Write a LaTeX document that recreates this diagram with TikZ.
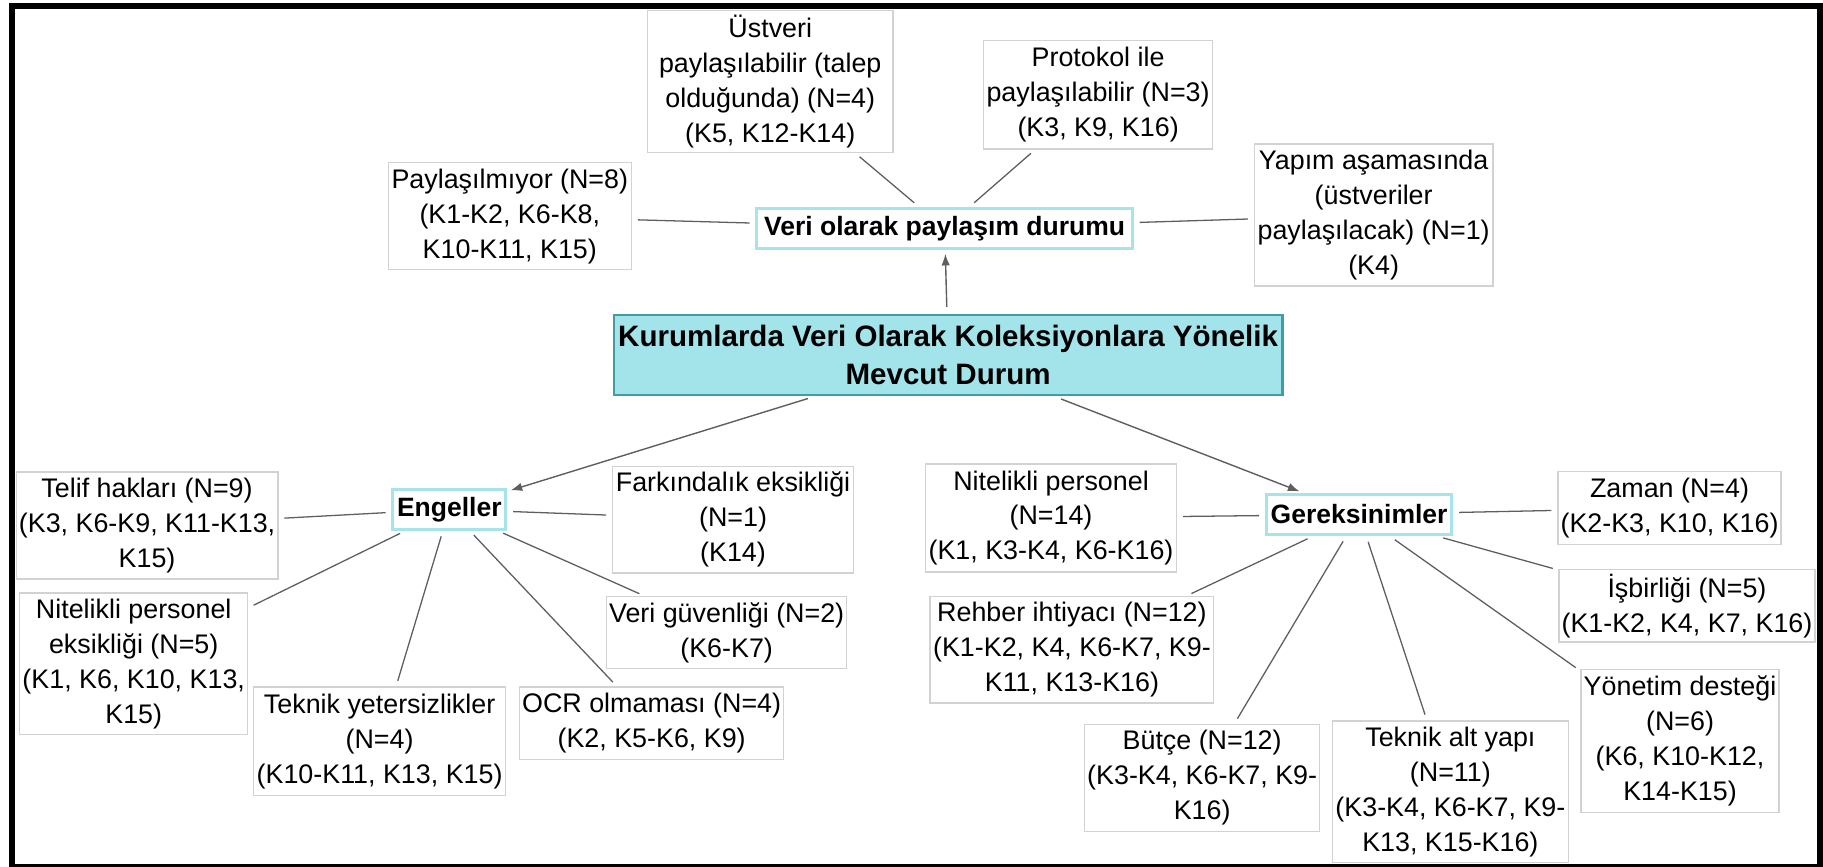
\documentclass[tikz,border=0pt]{standalone}
\usepackage{fontspec}
\setmainfont{Liberation Sans}
\usetikzlibrary{arrows.meta}
\definecolor{leafgray}{HTML}{D2D2D2}
\definecolor{catcyan}{HTML}{A6E3EA}
\definecolor{cfill}{HTML}{A3E4EA}
\definecolor{cdraw}{HTML}{3F9EA4}
\definecolor{linegray}{HTML}{5E5E5E}
\begin{document}
\begin{tikzpicture}[x=0.5pt,y=-0.5pt,
  leaf/.style={draw=leafgray,line width=0.6pt,fill=white,inner sep=0pt,align=center,
    font=\fontsize{11.55}{15}\selectfont},
  cat/.style={draw=catcyan,line width=1.3pt,fill=white,inner sep=0pt,align=center,
    font=\fontsize{11.4}{14}\selectfont\bfseries},
  rootbox/.style={draw=cdraw,line width=1pt,fill=cfill,inner sep=0pt,align=center,
    font=\fontsize{12.7}{16.4}\selectfont\bfseries},
  link/.style={draw=linegray,line width=0.55pt,shorten <=2.5pt,shorten >=2.5pt},
  arr/.style={draw=linegray,line width=0.6pt,-{Latex[length=5pt,width=3.6pt]},
    shorten <=3pt,shorten >=1.5pt}]
\useasboundingbox (0,0) rectangle (1568,745);
\draw[line width=2.6pt,black] (10.3,5.2) rectangle (1565.3,746);

% root and category nodes
\node[rootbox,minimum width=287.5pt,minimum height=34.5pt] (central) at (815.5,305.5)
  {Kurumlarda Veri Olarak Koleksiyonlara Yönelik\\Mevcut Durum};
\node[cat,minimum width=161.5pt,minimum height=17.5pt] (veri) at (812.5,196.5) {Veri olarak paylaşım durumu};
\node[cat,minimum width=48.5pt,minimum height=17.25pt] (engeller) at (386.5,438) {Engeller};
\node[cat,minimum width=79.75pt,minimum height=17.5pt] (gerek) at (1169,442.5) {Gereksinimler};

% sharing status
\node[leaf,minimum width=105.5pt,minimum height=61pt] (ustveri) at (662.5,70)
  {Üstveri\\paylaşılabilir (talep\\olduğunda) (N=4)\\(K5, K12-K14)};
\node[leaf,minimum width=98.5pt,minimum height=46.5pt] (protokol) at (944.5,81.5)
  {Protokol ile\\paylaşılabilir (N=3)\\(K3, K9, K16)};
\node[leaf,minimum width=104.5pt,minimum height=46pt] (paylas) at (438.5,186)
  {Paylaşılmıyor (N=8)\\(K1-K2, K6-K8,\\K10-K11, K15)};
\node[leaf,minimum width=102.5pt,minimum height=61pt] (yapim) at (1181.5,185)
  {Yapım aşamasında\\(üstveriler\\paylaşılacak) (N=1)\\(K4)};

% barriers
\node[leaf,minimum width=112.5pt,minimum height=46pt] (telif) at (126.5,452)
  {Telif hakları (N=9)\\(K3, K6-K9, K11-K13,\\K15)};
\node[leaf,minimum width=98pt,minimum height=61pt] (nitE) at (115,571)
  {Nitelikli personel\\eksikliği (N=5)\\(K1, K6, K10, K13,\\K15)};
\node[leaf,minimum width=108.5pt,minimum height=46.5pt] (tekY) at (326.5,637.5)
  {Teknik yetersizlikler\\(N=4)\\(K10-K11, K13, K15)};
\node[leaf,minimum width=113.5pt,minimum height=31pt] (ocr) at (560.5,622)
  {OCR olmaması (N=4)\\(K2, K5-K6, K9)};
\node[leaf,minimum width=103.25pt,minimum height=30.75pt] (veriguv) at (625,544)
  {Veri güvenliği (N=2)\\(K6-K7)};
\node[leaf,minimum width=103.5pt,minimum height=45.75pt] (farkin) at (630.5,447)
  {Farkındalık eksikliği\\(N=1)\\(K14)};

% needs
\node[leaf,minimum width=108pt,minimum height=46.5pt] (nitG) at (904,445.5)
  {Nitelikli personel\\(N=14)\\(K1, K3-K4, K6-K16)};
\node[leaf,minimum width=122pt,minimum height=45.75pt] (rehber) at (922,559)
  {Rehber ihtiyacı (N=12)\\(K1-K2, K4, K6-K7, K9-\\K11, K13-K16)};
\node[leaf,minimum width=101pt,minimum height=46pt] (butce) at (1034,669)
  {Bütçe (N=12)\\(K3-K4, K6-K7, K9-\\K16)};
\node[leaf,minimum width=101.5pt,minimum height=61pt] (tekA) at (1247.5,681)
  {Teknik alt yapı\\(N=11)\\(K3-K4, K6-K7, K9-\\K13, K15-K16)};
\node[leaf,minimum width=85pt,minimum height=61.5pt] (yonetim) at (1445,637.5)
  {Yönetim desteği\\(N=6)\\(K6, K10-K12,\\K14-K15)};
\node[leaf,minimum width=110pt,minimum height=31.25pt] (isbir) at (1451,521)
  {İşbirliği (N=5)\\(K1-K2, K4, K7, K16)};
\node[leaf,minimum width=96pt,minimum height=31.25pt] (zaman) at (1436,437)
  {Zaman (N=4)\\(K2-K3, K10, K16)};

% arrows from root
\draw[arr] (central) -- (veri);
\draw[arr] (central) -- (engeller);
\draw[arr] (central) -- (gerek);

% links
\foreach \t in {ustveri,protokol,paylas,yapim}
  \draw[link] (veri) -- (\t);
\foreach \t in {telif,nitE,tekY,ocr,veriguv,farkin}
  \draw[link] (engeller) -- (\t);
\foreach \t in {nitG,rehber,butce,tekA,yonetim,isbir,zaman}
  \draw[link] (gerek) -- (\t);
\end{tikzpicture}
\end{document}
